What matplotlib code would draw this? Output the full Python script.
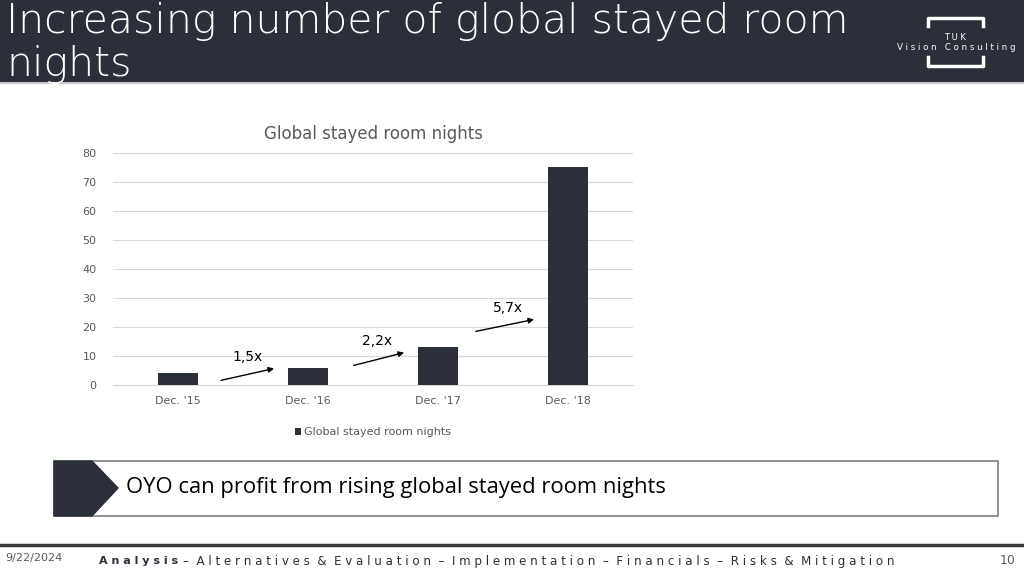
import numpy as np
import matplotlib.pyplot as plt
from matplotlib.patches import Rectangle, Polygon

categories = ["Dec. '15", "Dec. '16", "Dec. '17", "Dec. '18"]
values = [4, 6, 13, 75]
growth_labels = ["1,5x", "2,2x", "5,7x"]
yticks = [0, 10, 20, 30, 40, 50, 60, 70, 80]

dark = '#2b2f3a'
grey = '#595959'

fig = plt.figure(figsize=(10.24, 5.76), dpi=100)
fig.patch.set_facecolor('white')

# page decorations in pixel coordinates
bg = fig.add_axes([0, 0, 1, 1])
bg.set_xlim(0, 1024)
bg.set_ylim(576, 0)
bg.axis('off')

bg.add_patch(Rectangle((0, 0), 1024, 82, color=dark, zorder=0))
bg.plot([0, 1024], [83, 83], color='#c8c8c8', lw=1.5)
bg.text(6, 33, "Increasing number of global stayed room", color='white',
        fontsize=29.5, family='DejaVu Sans', weight='light', va='baseline')
bg.text(6, 76, "nights", color='white',
        fontsize=29.5, family='DejaVu Sans', weight='light', va='baseline')

# logo
bg.plot([928, 928, 983, 983], [26, 18, 18, 26], color='white', lw=2.5)
bg.plot([928, 928, 983, 983], [57, 66, 66, 57], color='white', lw=2.5)
bg.text(955, 38, "T U K", color='white', fontsize=6, ha='center', va='center')
bg.text(956, 47, "V i s i o n   C o n s u l t i n g", color='white',
        fontsize=6.2, ha='center', va='center')

# callout box
bg.add_patch(Rectangle((54, 461), 944, 55, facecolor='white',
                       edgecolor='#7f7f7f', lw=1.2, zorder=1))
bg.add_patch(Polygon([(54, 461), (92, 461), (118, 488), (92, 516), (54, 516)],
                     closed=True, color=dark, zorder=2))
bg.text(126, 488, "OYO can profit from rising global stayed room nights",
        fontsize=15.8, color='black', va='center', family='Open Sans', zorder=3)

# footer
bg.plot([0, 1024], [545, 545], color='#3a3a3a', lw=2.5)
bg.text(5, 558, "9/22/2024", fontsize=8, color=grey, va='center')
bg.text(99, 561, "A n a l y s i s", fontsize=8, weight='bold', color=dark, va='center')
bg.text(183, 561, "–  A l t e r n a t i v e s  &  E v a l u a t i o n  –  "
        "I m p l e m e n t a t i o n  –  F i n a n c i a l s  –  "
        "R i s k s  &  M i t i g a t i o n",
        fontsize=8.6, color=dark, va='center')
bg.text(1008, 561, "10", fontsize=9, color=grey, va='center', ha='center')

# chart
ax = fig.add_axes([113 / 1024, 1 - 385 / 576, 520 / 1024, 232 / 576])
x = np.arange(len(categories))
ax.bar(x, values, width=0.31, color=dark, zorder=3,
       label='Global stayed room nights')
ax.set_xlim(-0.5, 3.5)
ax.set_ylim(0, 80)
ax.set_yticks(yticks)
ax.set_xticks(x)
ax.set_xticklabels(categories)
ax.tick_params(axis='both', length=0, labelsize=8, labelcolor=grey, pad=8)
ax.tick_params(axis='y', pad=12)
ax.grid(axis='y', color='#d9d9d9', lw=0.8, zorder=0)
for s in ax.spines.values():
    s.set_visible(False)
ax.spines['bottom'].set_visible(True)
ax.spines['bottom'].set_color('#d9d9d9')
ax.set_title("Global stayed room nights", fontsize=12, color=grey, pad=10)

# growth arrows between bars
for i, lab in enumerate(growth_labels):
    y0 = values[i] + [-2.6, 0.5, 5.3][i]
    y1 = values[i] + [1.9, 5.4, 9.8][i]
    x0 = i + [0.31, 0.33, 0.27][i]
    ax.annotate('', xy=(i + 0.76, y1), xytext=(x0, y0),
                arrowprops=dict(arrowstyle='-|>', color='black', lw=1,
                                mutation_scale=8), zorder=4)
    ax.text(i + 0.535, y1 + 3.9, lab, ha='center', va='center', fontsize=10,
            color='black', zorder=4)

leg = ax.legend(loc='upper center', bbox_to_anchor=(0.5, -0.14), frameon=False,
                fontsize=8, handlelength=0.6, handleheight=0.6, handletextpad=0.3)
for t in leg.get_texts():
    t.set_color(grey)

plt.savefig('out.png', dpi=100)
